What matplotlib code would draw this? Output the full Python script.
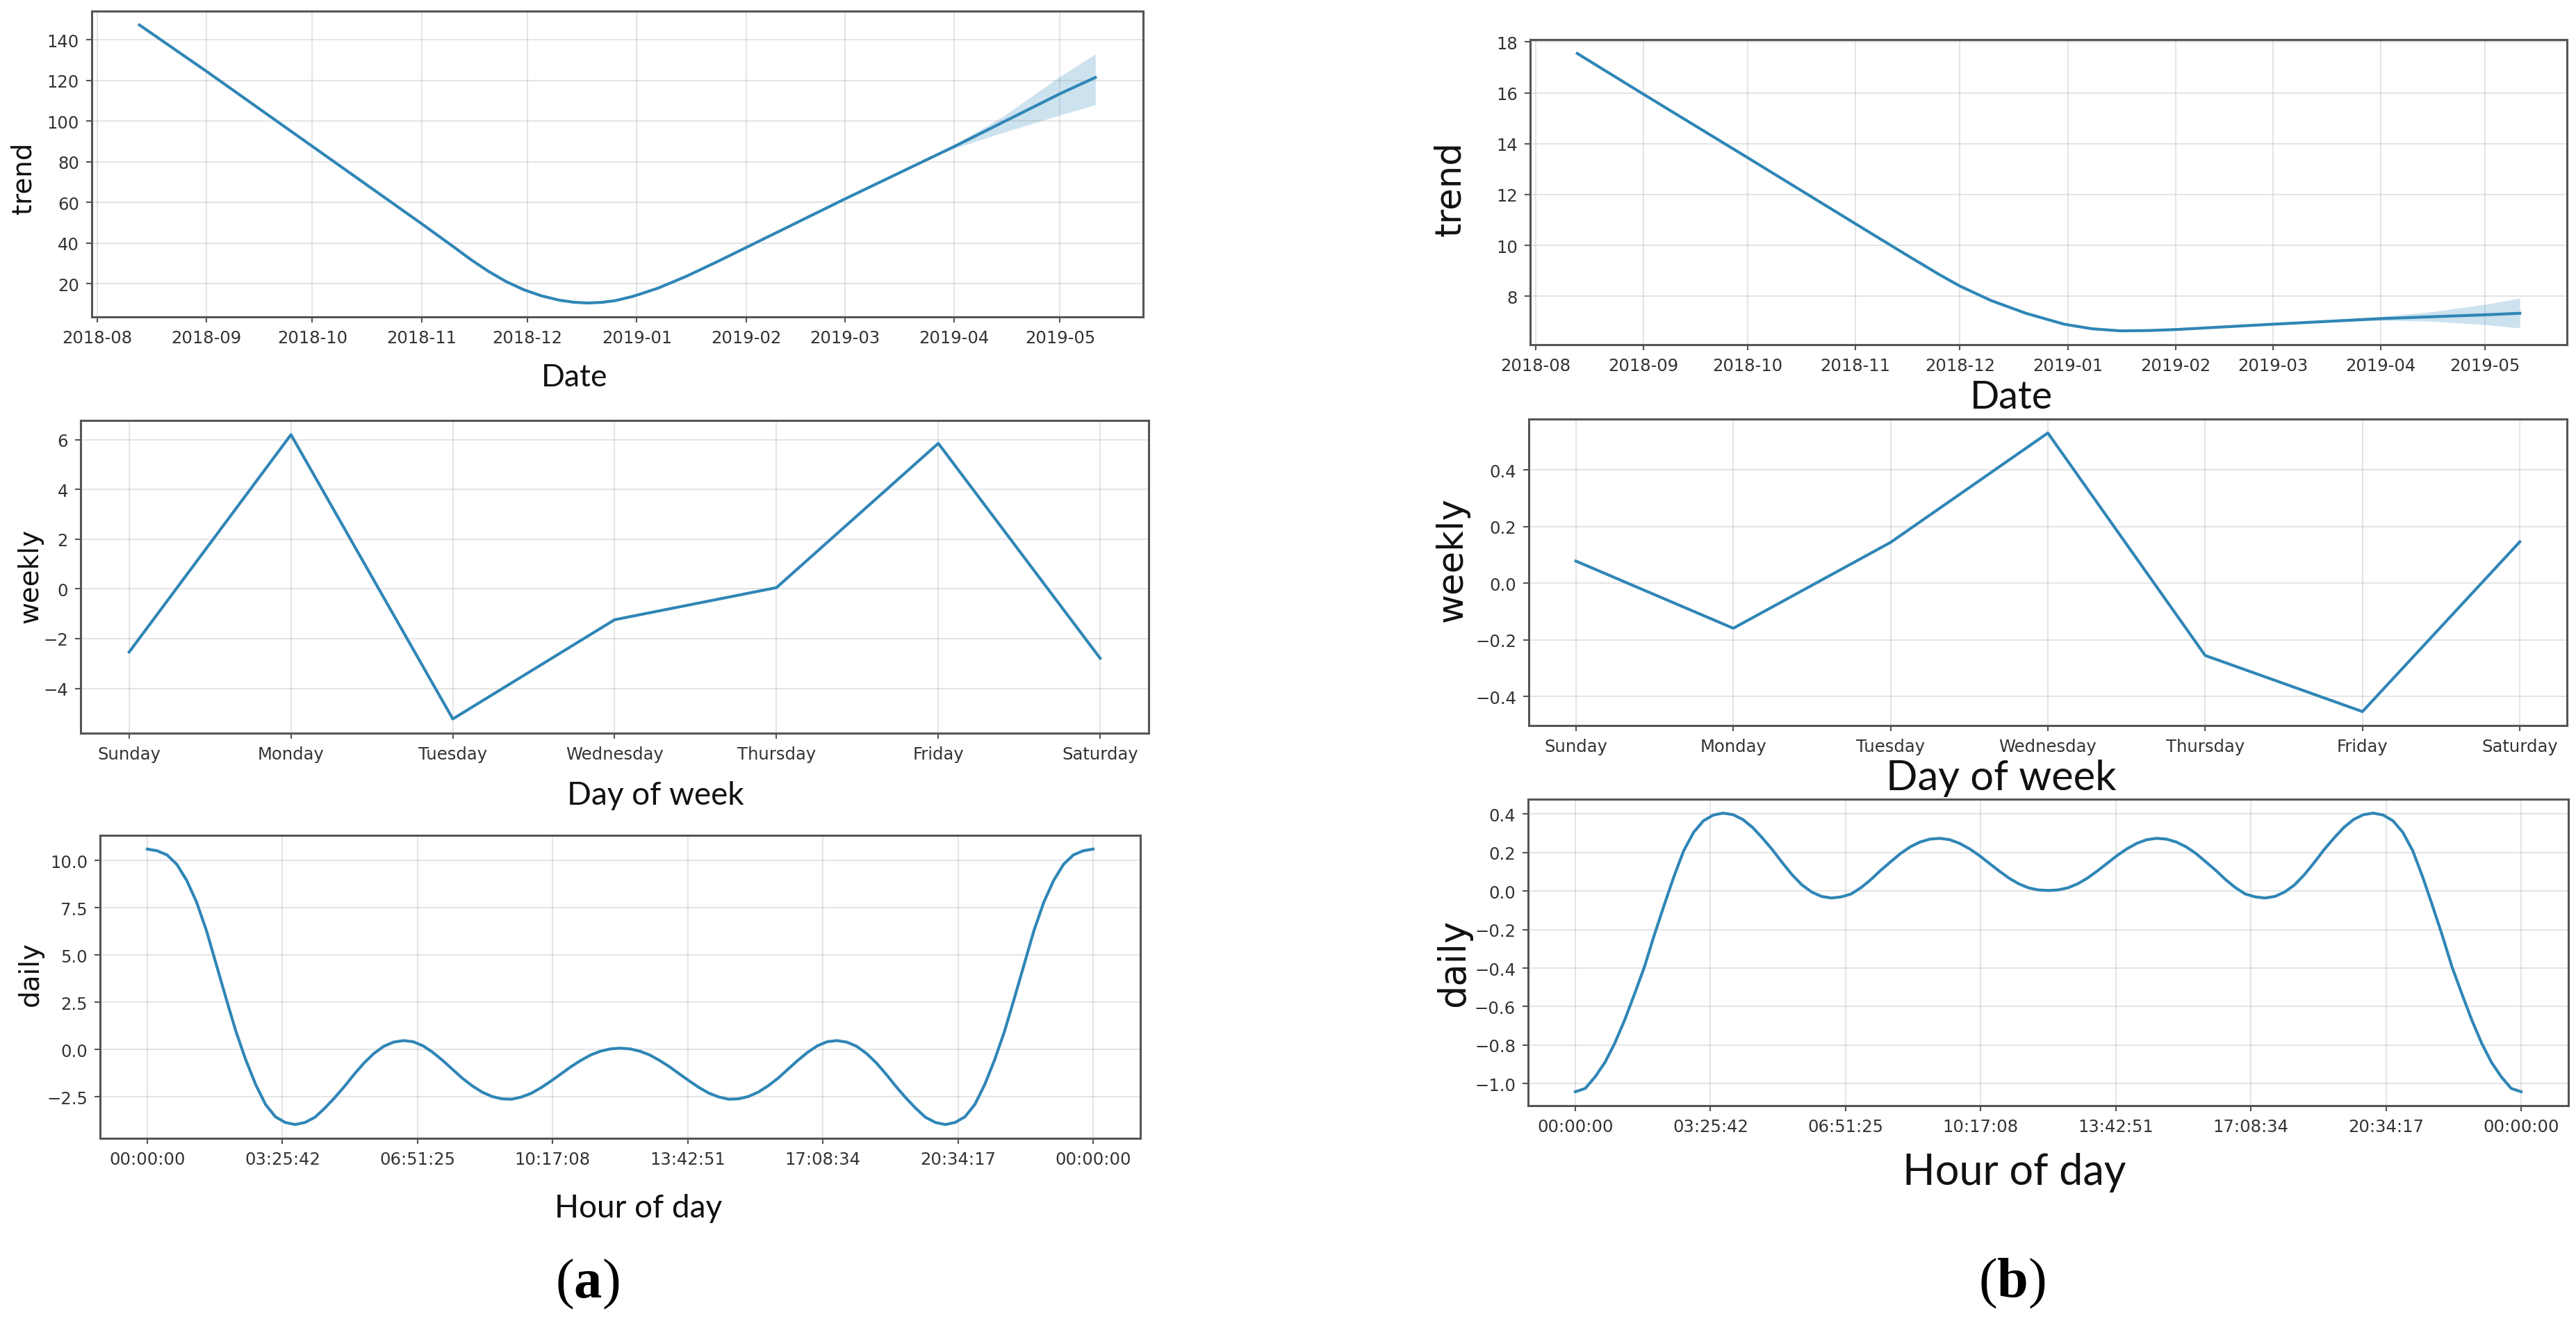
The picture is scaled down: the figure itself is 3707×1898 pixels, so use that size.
import matplotlib
matplotlib.use('Agg')
import matplotlib.pyplot as plt
import matplotlib.dates as mdates
import pandas as pd

W, H = 3707, 1899

# trend components, panel (a) and (b)
trend_a_dates = ['2018-08-13', '2018-09-01', '2018-10-01', '2018-11-01', '2018-11-10',
                 '2018-11-15', '2018-11-20', '2018-11-25', '2018-11-30', '2018-12-05',
                 '2018-12-10', '2018-12-14', '2018-12-18', '2018-12-22', '2018-12-26',
                 '2018-12-31', '2019-01-07', '2019-01-15', '2019-01-24', '2019-02-01',
                 '2019-03-01', '2019-04-01', '2019-05-01', '2019-05-11']
trend_a = [147.3, 124.5, 87.6, 49.5, 38.2, 31.8, 26.0, 21.0, 17.0, 14.0, 11.9, 10.9,
           10.5, 10.8, 11.7, 13.8, 17.8, 23.6, 31.0, 37.8, 61.7, 87.5, 113.5, 121.5]
band_a_dates = ['2019-03-28', '2019-04-01', '2019-04-15', '2019-05-01', '2019-05-11']
band_a_lower = [84.0, 86.6, 94.5, 103.0, 108.0]
band_a_upper = [84.4, 88.4, 102.5, 122.0, 133.0]

trend_b_dates = ['2018-08-13', '2018-09-01', '2018-10-01', '2018-11-01', '2018-11-15',
                 '2018-11-25', '2018-12-01', '2018-12-10', '2018-12-20', '2018-12-31',
                 '2019-01-08', '2019-01-16', '2019-01-24', '2019-02-01', '2019-03-01',
                 '2019-04-01', '2019-05-01', '2019-05-11']
trend_b = [17.55, 15.95, 13.45, 10.85, 9.68, 8.86, 8.40, 7.83, 7.33, 6.90, 6.72,
           6.64, 6.65, 6.69, 6.90, 7.12, 7.27, 7.33]
band_b_dates = ['2019-03-01', '2019-04-01', '2019-04-15', '2019-05-01', '2019-05-11']
band_b_lower = [6.89, 7.05, 7.02, 6.88, 6.75]
band_b_upper = [6.91, 7.20, 7.38, 7.68, 7.92]

# weekly components
days = ['Sunday', 'Monday', 'Tuesday', 'Wednesday', 'Thursday', 'Friday', 'Saturday']
weekly_a = [-2.54, 6.2, -5.23, -1.24, 0.05, 5.85, -2.79]
weekly_b = [0.078, -0.159, 0.144, 0.53, -0.255, -0.453, 0.146]

# daily components, read every quarter hour
hours = [i / 4 for i in range(97)]
daily_a = [10.61, 10.52, 10.30, 9.80, 8.95, 7.80, 6.30, 4.50, 2.70, 0.95, -0.55, -1.85,
           -2.90, -3.55, -3.85, -3.96, -3.85, -3.58, -3.10, -2.55, -1.95, -1.30, -0.70,
           -0.20, 0.18, 0.40, 0.48, 0.42, 0.20, -0.15, -0.58, -1.05, -1.52, -1.92, -2.25,
           -2.48, -2.60, -2.62, -2.50, -2.30, -2.00, -1.65, -1.28, -0.90, -0.57, -0.28,
           -0.08, 0.04, 0.08,
           0.04, -0.08, -0.28, -0.57, -0.90, -1.28, -1.65, -2.00, -2.30, -2.50, -2.62,
           -2.60, -2.48, -2.25, -1.92, -1.52, -1.05, -0.58, -0.15, 0.20, 0.42, 0.48, 0.40,
           0.18, -0.20, -0.70, -1.30, -1.95, -2.55, -3.10, -3.58, -3.85, -3.96, -3.85,
           -3.55, -2.90, -1.85, -0.55, 0.95, 2.70, 4.50, 6.30, 7.80, 8.95, 9.80, 10.30,
           10.52, 10.61]
daily_b = [-1.042, -1.025, -0.965, -0.890, -0.790, -0.670, -0.535, -0.395, -0.230,
           -0.075, 0.075, 0.210, 0.305, 0.365, 0.395, 0.405, 0.397, 0.372, 0.330, 0.275,
           0.215, 0.148, 0.085, 0.032, -0.005, -0.028, -0.036, -0.030, -0.015, 0.018,
           0.060, 0.108, 0.152, 0.195, 0.230, 0.255, 0.270, 0.274, 0.267, 0.248, 0.220,
           0.185, 0.145, 0.105, 0.068, 0.038, 0.017, 0.006, 0.003,
           0.006, 0.017, 0.038, 0.068, 0.105, 0.145, 0.185, 0.220, 0.248, 0.267, 0.274,
           0.270, 0.255, 0.230, 0.195, 0.152, 0.108, 0.060, 0.018, -0.015, -0.030,
           -0.036, -0.028, -0.005, 0.032, 0.085, 0.148, 0.215, 0.275, 0.330, 0.372,
           0.397, 0.405, 0.395, 0.365, 0.305, 0.210, 0.075, -0.075, -0.230, -0.395,
           -0.535, -0.670, -0.790, -0.890, -0.965, -1.025, -1.042]
hour_labels = ['00:00:00', '03:25:42', '06:51:25', '10:17:08', '13:42:51',
               '17:08:34', '20:34:17', '00:00:00']

LINE = '#2f86b6'
BAND = '#0072B2'

plt.rcParams['mathtext.fontset'] = 'custom'
plt.rcParams['mathtext.rm'] = 'Liberation Serif'
plt.rcParams['mathtext.bf'] = 'Liberation Serif:bold'

fig = plt.figure(figsize=(W / 100, H / 100), dpi=100)


def box(left, top, right, bottom):
    return fig.add_axes([left / W, 1 - bottom / H, (right - left) / W, (bottom - top) / H])


def style(ax):
    ax.grid(True, which='major', color='gray', ls='-', lw=1.5, alpha=0.2)
    for s in ax.spines.values():
        s.set_color('#555555')
        s.set_linewidth(2.2)
    ax.tick_params(length=6, width=1.5, color='#555555', labelsize=17.5,
                   labelcolor='#333333', pad=7)


def ylab(x, y, text, size):
    fig.text(x / W, 1 - y / H, text, rotation=90, ha='center', va='center',
             fontsize=size, family='DejaVu Sans', color='#111111')


def xlab(x, y, text, size):
    fig.text(x / W, 1 - y / H, text, ha='center', va='baseline',
             fontsize=size, family='Lato', color='#111111')


def trend_plot(ax, dates, vals, bdates, lo, hi):
    ax.fill_between(pd.to_datetime(bdates), lo, hi, color=BAND, alpha=0.2, lw=0)
    ax.plot(pd.to_datetime(dates), vals, color=LINE, lw=3, solid_joinstyle='round')
    ax.xaxis.set_major_locator(mdates.MonthLocator())
    ax.xaxis.set_major_formatter(mdates.DateFormatter('%Y-%m'))
    style(ax)


def weekly_plot(ax, vals):
    ax.plot(range(len(days)), vals, color=LINE, lw=3)
    ax.set_xticks(range(len(days)))
    ax.set_xticklabels(days)
    style(ax)


def daily_plot(ax, vals):
    ax.plot(hours, vals, color=LINE, lw=3, solid_joinstyle='round')
    ax.set_xticks([24 * i / 7 for i in range(8)])
    ax.set_xticklabels(hour_labels)
    style(ax)


# panel (a)
ax = box(132, 17, 1645, 457)
trend_plot(ax, trend_a_dates, trend_a, band_a_dates, band_a_lower, band_a_upper)
ax = box(116, 606, 1653, 1056)
weekly_plot(ax, weekly_a)
ax = box(144, 1203, 1641, 1639)
daily_plot(ax, daily_a)

ylab(34, 256, 'trend', 28)
ylab(43, 829, 'weekly', 28)
ylab(44, 1402, 'daily', 28)
xlab(827, 556, 'Date', 32)
xlab(943, 1158, 'Day of week', 33)
xlab(919, 1752, 'Hour of day', 33)
fig.text(845 / W, 1 - 1848 / H, r'($\mathbf{a}$)', ha='center', va='center',
         fontsize=58, family='Liberation Serif')

# panel (b)
ax = box(2202, 58, 3694, 497)
trend_plot(ax, trend_b_dates, trend_b, band_b_dates, band_b_lower, band_b_upper)
ax = box(2200, 604, 3694, 1045)
weekly_plot(ax, weekly_b)
ax = box(2199, 1151, 3696, 1592)
daily_plot(ax, daily_b)

ylab(2087, 272, 'trend', 37)
ylab(2090, 805, 'weekly', 37)
ylab(2092, 1386, 'daily', 38)
xlab(2894, 588, 'Date', 40)
xlab(2880, 1137, 'Day of week', 43)
xlab(2899, 1705, 'Hour of day', 44)
fig.text(2895 / W, 1 - 1847 / H, r'($\mathbf{b}$)', ha='center', va='center',
         fontsize=58, family='Liberation Serif')

fig.savefig('out.png', dpi=100)
